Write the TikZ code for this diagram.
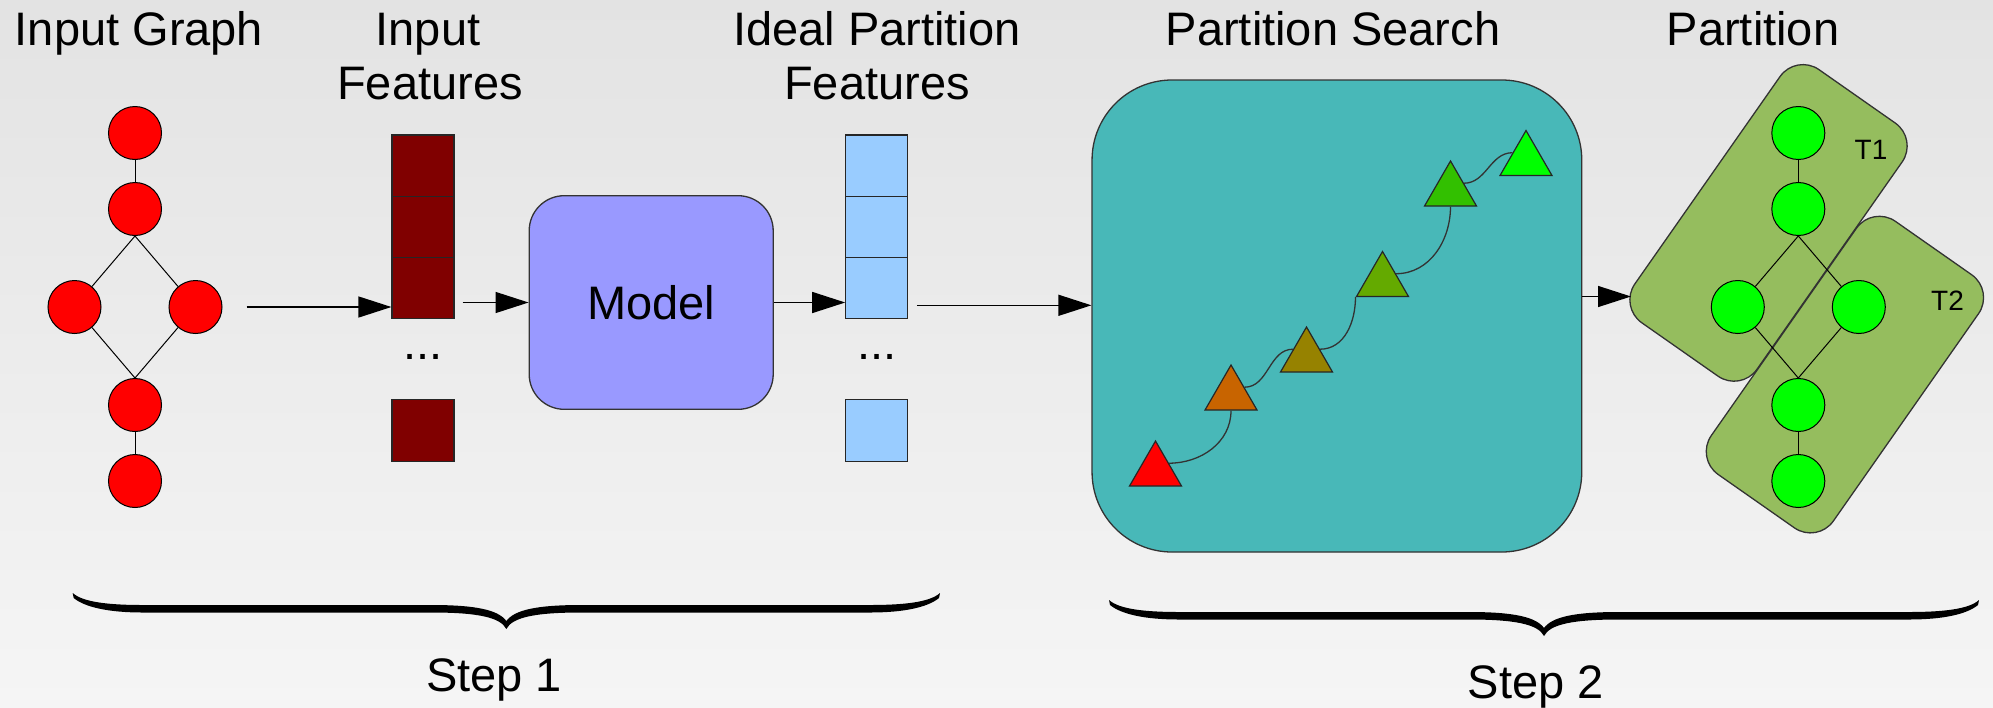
\documentclass[tikz,border=0pt]{standalone}
\usepackage{fontspec}
\setmainfont{Liberation Sans}
\usetikzlibrary{arrows.meta,shapes.geometric,calc}

\definecolor{bgtop}{RGB}{227,227,227}
\definecolor{bgbot}{RGB}{245,245,245}
\definecolor{featred}{RGB}{128,0,0}
\definecolor{featblue}{RGB}{153,204,255}
\definecolor{modelblue}{RGB}{153,153,255}
\definecolor{searchteal}{RGB}{72,184,184}
\definecolor{partgreen}{RGB}{149,189,94}
\definecolor{vgreen}{RGB}{0,255,0}
\definecolor{triorange}{RGB}{200,100,0}
\definecolor{triolive}{RGB}{150,130,0}
\definecolor{trigreenA}{RGB}{100,170,0}
\definecolor{trigreenB}{RGB}{50,192,0}

% filled curly brace pointing down: left x, right x, y of the tips of its ends
\newcommand{\stepbracefill}[3]{%
  \pgfmathsetmacro{\bxm}{(#1+#2)/2}%
  \fill[black]
    (#1,#3) .. controls ({#1+10},{#3+9}) and ({#1+35},{#3+12}) .. ({#1+70},{#3+12})
    -- ({\bxm-75},{#3+12}) .. controls ({\bxm-30},{#3+12}) and ({\bxm-8},{#3+17}) .. (\bxm,{#3+28})
    .. controls ({\bxm+8},{#3+17}) and ({\bxm+30},{#3+12}) .. ({\bxm+75},{#3+12})
    -- ({#2-70},{#3+12}) .. controls ({#2-35},{#3+12}) and ({#2-10},{#3+9}) .. (#2,#3)
    -- ({#2-1},{#3+5})
    .. controls ({#2-12},{#3+14}) and ({#2-35},{#3+19.5}) .. ({#2-70},{#3+19.5})
    -- ({\bxm+75},{#3+19.5}) .. controls ({\bxm+30},{#3+19.5}) and ({\bxm+6},{#3+24}) .. (\bxm,{#3+36})
    .. controls ({\bxm-6},{#3+24}) and ({\bxm-30},{#3+19.5}) .. ({\bxm-75},{#3+19.5})
    -- ({#1+70},{#3+19.5}) .. controls ({#1+35},{#3+19.5}) and ({#1+12},{#3+14}) .. ({#1+1},{#3+5})
    -- cycle;}

\begin{document}
\begin{tikzpicture}[x=1pt,y=-1pt,
  title/.style={font=\fontsize{47}{54}\selectfont, inner sep=0pt, anchor=base},
  tlabel/.style={font=\fontsize{28}{32}\selectfont, inner sep=0pt, anchor=base},
  vtx/.style={circle, draw=black, line width=1pt, minimum size=53pt, inner sep=0pt},
  edge/.style={line width=1pt, draw=black},
  cell/.style={draw=black!85, line width=1.2pt, minimum width=62pt, minimum height=61.1pt, inner sep=0pt},
  arr/.style={-{Triangle[length=33pt,width=21pt]}, line width=1.3pt},
  tri/.style={regular polygon, regular polygon sides=3, minimum size=60pt, inner sep=0pt,
              draw=black!85, line width=1.2pt},
  link/.style={line width=1.3pt, draw=black!80},
  part/.style={draw=black!80, fill=partgreen, line width=1.3pt, rotate=55,
               minimum width=309pt, minimum height=149pt, rounded corners=28pt, inner sep=0pt}
]
\useasboundingbox (0,0) rectangle (1993,707);
\shade[top color=bgtop, bottom color=bgbot] (0,0) rectangle (1993,707);

% headings
\node[title] (hgraph) at (139,45.5) {Input Graph};
\node[title] (hfeat1) at (428,45.5) {Input};
\node[title] (hfeat2) at (430,99) {Features};
\node[title] (hideal1) at (877,45.5) {Ideal Partition};
\node[title] (hideal2) at (877,99) {Features};
\node[title] (hsearch) at (1333,45.5) {Partition Search};
\node[title] (hpart) at (1753,45.5) {Partition};

% input graph
\node[vtx, fill=red] (r1) at (135,133) {};
\node[vtx, fill=red] (r2) at (135,209) {};
\node[vtx, fill=red] (r3) at (74.5,307) {};
\node[vtx, fill=red] (r4) at (195.5,307) {};
\node[vtx, fill=red] (r5) at (135,405) {};
\node[vtx, fill=red] (r6) at (135,481) {};
\draw[edge] (r1) -- (r2);
\draw[edge] (r2.south) -- (r3);
\draw[edge] (r2.south) -- (r4);
\draw[edge] (r3) -- (r5.north);
\draw[edge] (r4) -- (r5.north);
\draw[edge] (r5) -- (r6);

% input feature vector
\node[cell, fill=featred] (a1) at (423,165.6) {};
\node[cell, fill=featred] (a2) at (423,226.7) {};
\node[cell, fill=featred] (a3) at (423,287.8) {};
\node[title] (adots) at (423,359) {...};
\node[cell, fill=featred, minimum height=62.4pt] (a4) at (423,430.5) {};

% model
\node[draw=black!80, line width=1.3pt, fill=modelblue, rounded corners=35pt,
      minimum width=244pt, minimum height=213.6pt, inner sep=0pt] (model) at (651.2,302.5) {};
\node[title] (mtext) at (651.2,319) {Model};

% ideal partition feature vector
\node[cell, fill=featblue] (b1) at (876.8,165.6) {};
\node[cell, fill=featblue] (b2) at (876.8,226.7) {};
\node[cell, fill=featblue] (b3) at (876.8,287.8) {};
\node[title] (bdots) at (876.8,359) {...};
\node[cell, fill=featblue, minimum height=62.4pt] (b4) at (876.8,430.5) {};

% partition search
\node[draw=black!80, line width=1.3pt, fill=searchteal, rounded corners=80pt,
      minimum width=489.7pt, minimum height=472pt, inner sep=0pt] (search) at (1336.9,316) {};
\node[tri, fill=red] (s1) at (1155.5,471) {};
\node[tri, fill=triorange] (s2) at (1231,395) {};
\node[tri, fill=triolive] (s3) at (1306.5,357) {};
\node[tri, fill=trigreenA] (s4) at (1382.5,281.5) {};
\node[tri, fill=trigreenB] (s5) at (1450.5,191) {};
\node[tri, fill=vgreen] (s6) at (1526,160.5) {};
\draw[link] (s1.side 3) to[out=0,in=-90] (s2.side 2);
\draw[link] (s2.side 3) to[out=0,in=180] (s3.side 1);
\draw[link] (s3.side 3) to[out=0,in=-90] (s4.corner 2);
\draw[link] (s4.side 3) to[out=0,in=-90] (s5.side 2);
\draw[link] (s5.side 3) to[out=0,in=180] (s6.side 1);

% resulting partition
\node[part] (t1box) at (1768.5,222.9) {};
\node[part] (t2box) at (1844.9,374.6) {};
\node[tlabel] (t1) at (1871,159.3) {T1};
\node[tlabel] (t2) at (1947.5,310) {T2};
\node[vtx, fill=vgreen] (g1) at (1798.3,133) {};
\node[vtx, fill=vgreen] (g2) at (1798.3,209) {};
\node[vtx, fill=vgreen] (g3) at (1737.8,307) {};
\node[vtx, fill=vgreen] (g4) at (1858.8,307) {};
\node[vtx, fill=vgreen] (g5) at (1798.3,405) {};
\node[vtx, fill=vgreen] (g6) at (1798.3,481) {};
\draw[edge] (g1) -- (g2);
\draw[edge] (g2.south) -- (g3);
\draw[edge] (g2.south) -- (g4);
\draw[edge] (g3) -- (g5.north);
\draw[edge] (g4) -- (g5.north);
\draw[edge] (g5) -- (g6);

% flow arrows
\draw[arr] ([xshift=24pt]r4.east) -- (r4 -| a3.west);
\draw[arr] ([xshift=8pt]a3.east |- model.west) -- (model.west);
\draw[arr] (model.east) -- (model.east -| b3.west);
\coordinate (q) at ($(b3.east)+(8.5,17.5)$);
\draw[arr] (q) -- (q -| search.west);
\coordinate (pin) at (1631,296.5);
\draw[arr] (search.east |- pin) -- (pin);

% step braces
\stepbracefill{72.7}{940}{593}
\stepbracefill{1109}{1979}{600}
\node[title] (step1) at (494,691.7) {Step 1};
\node[title] (step2) at (1535.7,698.3) {Step 2};
\end{tikzpicture}
\end{document}
